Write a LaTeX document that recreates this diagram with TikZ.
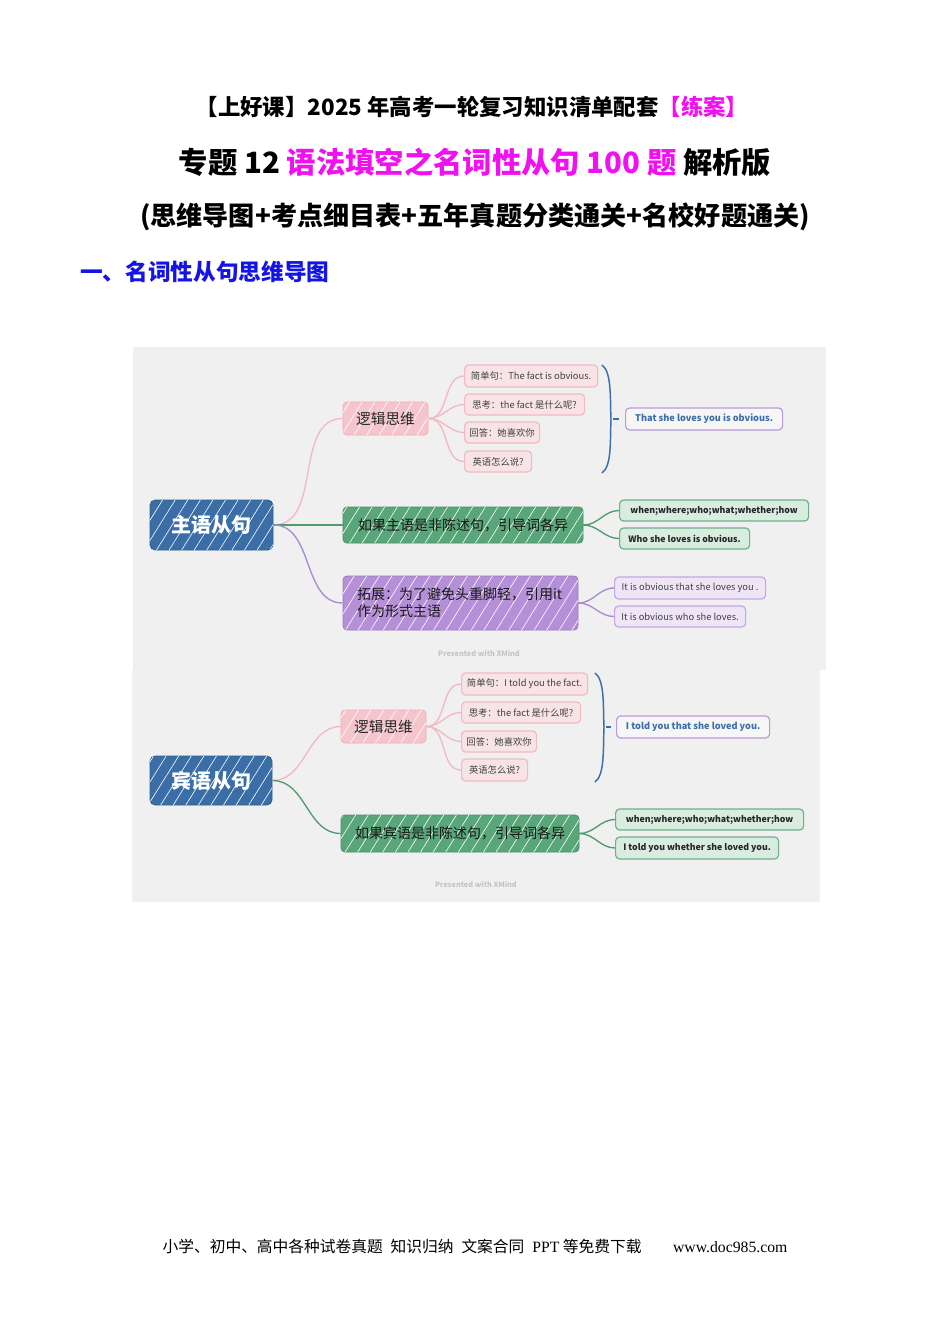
\documentclass[tikz,border=0pt]{standalone}
\usepackage{fontspec}
\setmainfont{Noto Sans CJK SC}
\newfontfamily\footlat{Liberation Serif}
\usetikzlibrary{patterns.meta}
\definecolor{tmag}{HTML}{F010F0}
\definecolor{tblue}{HTML}{1414E6}
\definecolor{bgray}{HTML}{F0F0F0}
\definecolor{cblue}{HTML}{3B6EA6}
\definecolor{cpink}{HTML}{F5C5CD}
\definecolor{lpink}{HTML}{F2B9C3}
\definecolor{leafpink}{HTML}{F8E4E7}
\definecolor{cgreen}{HTML}{58A679}
\definecolor{lgreen}{HTML}{4F9A6E}
\definecolor{leafgreen}{HTML}{D8ECDF}
\definecolor{bgreen}{HTML}{70AF8A}
\definecolor{cpurple}{HTML}{B590D8}
\definecolor{lpurple}{HTML}{AA8BD2}
\definecolor{leafpurple}{HTML}{EEE6F7}
\definecolor{bpurple}{HTML}{C4A7E5}
\definecolor{ansborder}{HTML}{B99BDC}
\definecolor{anstext}{HTML}{3D6EA7}
\definecolor{xmind}{HTML}{C4C4C4}
\tikzset{
  bw/.style={minimum width=#1*0.75pt},
  bh/.style={minimum height=#1*0.75pt},
  box/.style={rounded corners=3pt, inner sep=0pt, align=center},
  hatch/.style={postaction={fill opacity=0.3, pattern={Lines[angle=58,distance=8pt,line width=0.45pt]}, pattern color=white}},
  mainbox/.style={box, rounded corners=4pt, fill=cblue, draw=cblue!85!black, line width=0.7pt, text=white, font=\bfseries\fontsize{15}{17}\selectfont, hatch},
  pinkbox/.style={box, fill=cpink, draw=cpink!85!red, line width=0.5pt, text=black!85, font=\fontsize{11}{13}\selectfont, hatch},
  greenbox/.style={box, fill=cgreen, draw=cgreen!85!black, line width=0.6pt, text=black!90, font=\fontsize{10.5}{12.5}\selectfont, hatch},
  purplebox/.style={box, fill=cpurple, draw=cpurple!85!black, line width=0.6pt, text=black!90, font=\fontsize{10.5}{12.5}\selectfont, hatch},
  leaf/.style={box, anchor=west, line width=0.9pt, font=\fontsize{7}{8}\selectfont, text=black!75},
  pinkleaf/.style={leaf, fill=leafpink, draw=lpink},
  greenleaf/.style={leaf, fill=leafgreen, draw=bgreen, text=black!85, font=\bfseries\fontsize{6.6}{8}\selectfont},
  purpleleaf/.style={leaf, fill=leafpurple, draw=bpurple},
  ansbox/.style={leaf, fill=bgray!60!white, draw=ansborder, text=anstext, font=\bfseries\fontsize{6.9}{8}\selectfont},
  pinkline/.style={draw=lpink, line width=1pt},
  greenline/.style={draw=lgreen, line width=1pt},
  purpleline/.style={draw=lpurple, line width=1pt},
  bracket/.style={draw=cblue, line width=1.1pt},
  xm/.style={text=xmind, font=\bfseries\fontsize{5.5}{6}\selectfont}
}
\begin{document}
\begin{tikzpicture}[x=0.75pt,y=-0.75pt]
\useasboundingbox (0,0) rectangle (950,1344);
\fill[white] (0,0) rectangle (950,1344);

% titles
\node[font=\bfseries\fontsize{16.8}{18}\selectfont] (t1) at (472,107) {【上好课】2025 年高考一轮复习知识清单配套\textcolor{tmag}{【练案】}};
\node[font=\bfseries\fontsize{22}{24}\selectfont] (t2) at (475,162) {专题 12 \textcolor{tmag}{语法填空之名词性从句 100 题} 解析版};
\node[font=\bfseries\fontsize{19.6}{22}\selectfont] (t3) at (475,217) {(思维导图+考点细目表+五年真题分类通关+名校好题通关)};
\node[anchor=west, inner sep=0pt, text=tblue, font=\bfseries\fontsize{17}{19}\selectfont] (t4) at (80,272) {一、名词性从句思维导图};

% backgrounds
\fill[bgray] (133,347) rectangle (826,670);
\fill[bgray] (132,670) rectangle (820,902);

% ===== top map: 主语从句 =====
\node[mainbox, bw=123, bh=50] (s1) at (211.5,525) {主语从句};
\node[pinkbox, bw=85, bh=33] (s1l) at (385.5,418.5) {逻辑思维};
\node[greenbox, bw=240, bh=36] (s1g) at (463,525) {如果主语是非陈述句，引导词各异};
\node[purplebox, bw=235, bh=54, align=left, text width=207*0.75pt] (s1p) at (460.5,603) {拓展：为了避免头重脚轻，引用it\\作为形式主语};

\node[pinkleaf, bw=133, bh=22] (s1a) at (464,376) {简单句：The fact is obvious.};
\node[pinkleaf, bw=120, bh=21] (s1b) at (464,404.5) {思考：the fact 是什么呢?};
\node[pinkleaf, bw=75, bh=21] (s1c) at (464,432.5) {回答：她喜欢你};
\node[pinkleaf, bw=67, bh=21] (s1d) at (464,461.5) {英语怎么说?};

\coordinate (b1t) at (602,365);
\coordinate (b1b) at (602,473);
\coordinate (b1m) at (611,419);
\coordinate (b1d) at (619,419);
\node[ansbox, bw=157, bh=22] (s1ans) at (625,419) {That she loves you is obvious.};

\node[greenleaf, bw=189, bh=21] (s1g1) at (619,510.5) {when;where;who;what;whether;how};
\node[greenleaf, bw=130, bh=21] (s1g2) at (619,538.5) {Who she loves is obvious.};
\node[purpleleaf, bw=151, bh=22] (s1p1) at (614,588) {It is obvious that she loves you .};
\node[purpleleaf, bw=131, bh=21] (s1p2) at (614,616.5) {It is obvious who she loves.};
\node[xm] (x1) at (479,653) {Presented with XMind};

\draw[pinkline] (s1.east) to[out=0,in=180] (s1l.west);
\draw[greenline] (s1.east) -- (s1g.west);
\draw[purpleline] (s1.east) to[out=0,in=180] (s1p.west);
\foreach \n in {s1a,s1b,s1c,s1d} \draw[pinkline] (s1l.east) to[out=0,in=180] (\n.west);
\foreach \n in {s1g1,s1g2} \draw[greenline] (s1g.east) to[out=0,in=180] (\n.west);
\foreach \n in {s1p1,s1p2} \draw[purpleline] (s1p.east) to[out=0,in=180] (\n.west);
\draw[bracket] (b1t) .. controls (612,372) and (610,400) .. (b1m) .. controls (610,440) and (612,466) .. (b1b);
\draw[bracket] ([xshift=2*0.75pt]b1m) -- (b1d);

% ===== bottom map: 宾语从句 =====
\node[mainbox, bw=122, bh=49] (o1) at (211,780.5) {宾语从句};
\node[pinkbox, bw=85, bh=33] (o1l) at (383.5,726.5) {逻辑思维};
\node[greenbox, bw=238, bh=37] (o1g) at (460,833.5) {如果宾语是非陈述句，引导词各异};

\node[pinkleaf, bw=126, bh=22] (o1a) at (461,684) {简单句：I told you the fact.};
\node[pinkleaf, bw=119, bh=21] (o1b) at (461,712.5) {思考：the fact 是什么呢?};
\node[pinkleaf, bw=75, bh=21] (o1c) at (461,741.5) {回答：她喜欢你};
\node[pinkleaf, bw=66, bh=22] (o1d) at (461,770) {英语怎么说?};

\coordinate (b2t) at (595,673);
\coordinate (b2b) at (595,782);
\coordinate (b2m) at (604,727);
\coordinate (b2d) at (611,727);
\node[ansbox, bw=153, bh=22] (o1ans) at (616,727) {I told you that she loved you.};

\node[greenleaf, bw=188, bh=21] (o1g1) at (615,819.5) {when;where;who;what;whether;how};
\node[greenleaf, bw=163, bh=22] (o1g2) at (615,848) {I told you whether she loved you.};
\node[xm] (x2) at (476,884) {Presented with XMind};

\draw[pinkline] (o1.east) to[out=0,in=180] (o1l.west);
\draw[greenline] (o1.east) to[out=0,in=180] (o1g.west);
\foreach \n in {o1a,o1b,o1c,o1d} \draw[pinkline] (o1l.east) to[out=0,in=180] (\n.west);
\foreach \n in {o1g1,o1g2} \draw[greenline] (o1g.east) to[out=0,in=180] (\n.west);
\draw[bracket] (b2t) .. controls (605,680) and (603,708) .. (b2m) .. controls (603,748) and (605,775) .. (b2b);
\draw[bracket] ([xshift=2*0.75pt]b2m) -- (b2d);

% footer
\node[font=\fontsize{11.8}{13}\selectfont] (ft) at (475,1246) {小学、初中、高中各种试卷真题\hspace{0.5em}知识归纳\hspace{0.5em}文案合同\hspace{0.5em}{\footlat PPT} 等免费下载\hspace{2em}{\footlat www.doc985.com}};
\end{tikzpicture}
\end{document}
